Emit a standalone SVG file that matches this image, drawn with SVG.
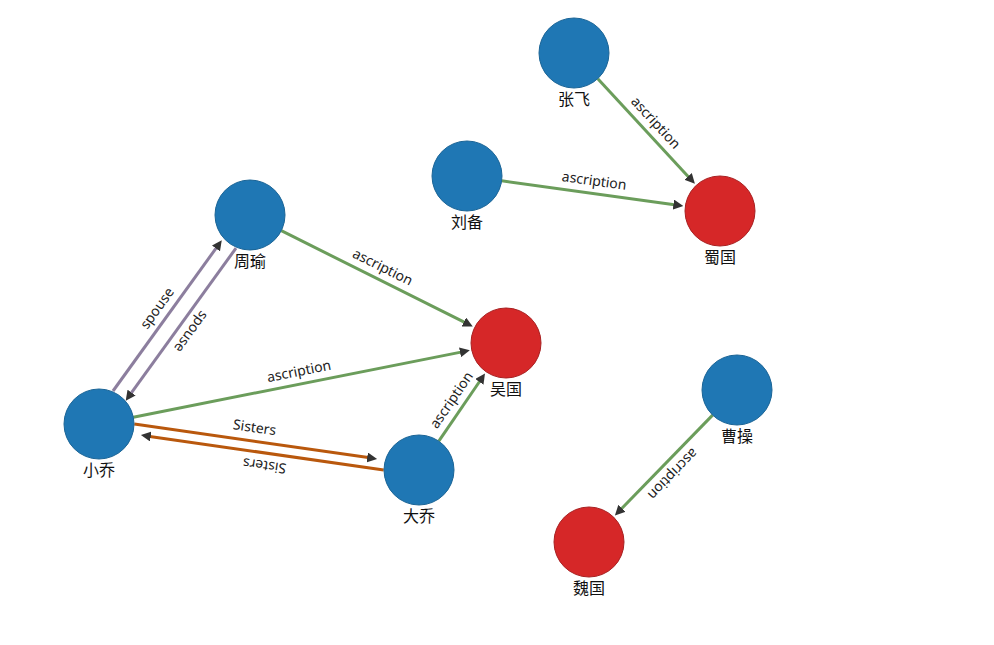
<svg xmlns="http://www.w3.org/2000/svg" width="994" height="645" viewBox="0 0 994 645">
<style>
  .link { fill: none; stroke-width: 3; }
  .asc { stroke: #6b9d5b; }
  .sp { stroke: #8c7e9e; }
  .sis { stroke: #b9580d; }
  .elabel { font-family: "Noto Sans", "Liberation Sans", sans-serif; font-size: 14px; fill: #222; text-anchor: middle; }
  .nlabel { font-family: "Noto Sans CJK SC", "Noto Sans", sans-serif; font-size: 16px; fill: #111; text-anchor: middle; }
  .person { fill: #1f77b4; stroke: #1a6496; stroke-width: 1; }
  .state { fill: #d62728; stroke: #a82021; stroke-width: 1; }
</style>
<defs>
  <marker id="arrow" viewBox="0 -5 10 10" refX="1" refY="0" markerWidth="10" markerHeight="10" markerUnits="userSpaceOnUse" orient="auto">
    <path d="M0,-5 L10,0 L0,5 Z" fill="#333"/>
  </marker>
</defs>
<rect width="994" height="645" fill="#ffffff"/>
<g id="connectors">
  <path class="link asc" d="M597.8,78.7 L688.8,177.2" marker-end="url(#arrow)"/>
  <text class="elabel" transform="translate(646.4,131.3) rotate(47.2)" y="-8">ascription</text>

  <path class="link asc" d="M501.7,180.8 L674.4,204.7" marker-end="url(#arrow)"/>
  <text class="elabel" transform="translate(592.5,193.4) rotate(7.88)" y="-8">ascription</text>

  <path class="link asc" d="M281.3,230.7 L464.7,322.4" marker-end="url(#arrow)"/>
  <text class="elabel" transform="translate(377,278.5) rotate(26.57)" y="-8">ascription</text>

  <path class="link asc" d="M133.3,417.2 L461.0,352.1" marker-end="url(#arrow)"/>
  <text class="elabel" transform="translate(301.5,383.7) rotate(-11.26)" y="-8">ascription</text>

  <path class="link asc" d="M438.8,441.1 L479.9,381.0" marker-end="url(#arrow)"/>
  <text class="elabel" transform="translate(461.9,407.3) rotate(-55.6)" y="-8">ascription</text>

  <path class="link asc" d="M712.6,415.1 L621.2,509.0" marker-end="url(#arrow)"/>
  <text class="elabel" transform="translate(663.8,465.2) rotate(134.2)" y="-8">ascription</text>

  <path class="link sp" d="M113,391 L216.5,247.6" marker-end="url(#arrow)"/>
  <text class="elabel" transform="translate(167.4,315.7) rotate(-54.16)" y="-8">spouse</text>

  <path class="link sp" d="M236,248.1 L131,393.4" marker-end="url(#arrow)"/>
  <text class="elabel" transform="translate(180.9,324.4) rotate(125.84)" y="-8">spouse</text>

  <path class="link sis" d="M134.3,424.0 L368.2,457.6" marker-end="url(#arrow)"/>
  <text class="elabel" transform="translate(252.7,441.1) rotate(8.18)" y="-9">Sisters</text>

  <path class="link sis" d="M383.7,470 L149.8,436.4" marker-end="url(#arrow)"/>
  <text class="elabel" transform="translate(266.3,453.1) rotate(188.18)" y="-8">Sisters</text>
</g>
<g id="node-zhangfei"><circle class="person" cx="574" cy="53" r="35"/><text class="nlabel" x="574" y="105">张飞</text></g>
<g id="node-liubei"><circle class="person" cx="467" cy="176" r="35"/><text class="nlabel" x="467" y="228">刘备</text></g>
<g id="node-shu"><circle class="state" cx="720" cy="211" r="35"/><text class="nlabel" x="720" y="263">蜀国</text></g>
<g id="node-zhouyu"><circle class="person" cx="250" cy="215" r="35"/><text class="nlabel" x="250" y="267">周瑜</text></g>
<g id="node-wu"><circle class="state" cx="506" cy="343" r="35"/><text class="nlabel" x="506" y="395">吴国</text></g>
<g id="node-xiaoqiao"><circle class="person" cx="99" cy="424" r="35"/><text class="nlabel" x="99" y="476">小乔</text></g>
<g id="node-daqiao"><circle class="person" cx="419" cy="470" r="35"/><text class="nlabel" x="419" y="522">大乔</text></g>
<g id="node-caocao"><circle class="person" cx="737" cy="390" r="35"/><text class="nlabel" x="737" y="442">曹操</text></g>
<g id="node-wei"><circle class="state" cx="589" cy="542" r="35"/><text class="nlabel" x="589" y="594">魏国</text></g>
</svg>
